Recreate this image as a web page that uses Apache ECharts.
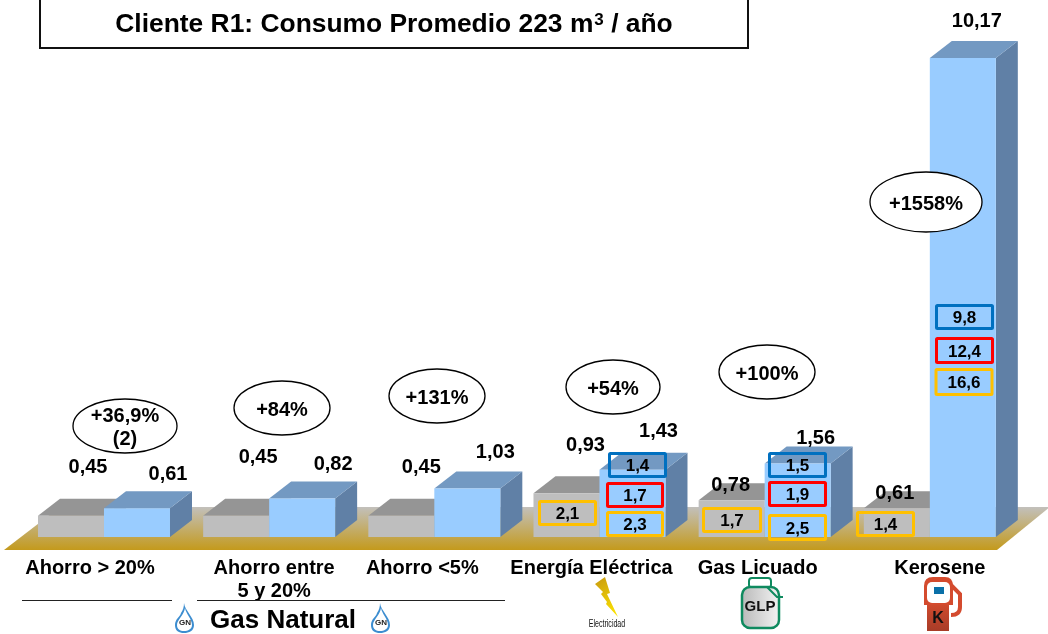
<!DOCTYPE html>
<html>
<head>
<meta charset="utf-8">
<script src="https://cdn.jsdelivr.net/npm/echarts@6/dist/echarts.min.js"></script>
<style>
html, body { margin: 0; padding: 0; background: #fff; }
#main { width: 1048px; height: 634px; }
</style>
</head>
<body>
<div id="main"></div>
<script>
var categories = ['Ahorro > 20%', 'Ahorro entre\n5 y 20%', 'Ahorro <5%', 'Energía Eléctrica', 'Gas Licuado', 'Kerosene'];
var grayValues = [0.45, 0.45, 0.45, 0.93, 0.78, 0.61];
var blueValues = [0.61, 0.82, 1.03, 1.43, 1.56, 10.17];
var percents = ['+36,9%\n(2)', '+84%', '+131%', '+54%', '+100%', '+1558%'];
var boxTexts = ['2,1', '1,4', '1,7', '2,3', '1,7', '1,5', '1,9', '2,5', '1,4', '9,8', '12,4', '16,6'];

// label nudges, relative to the top of each bar
var grayShift = [[17, -48], [22, -58], [20, -48], [19, -48], [-1, -15], [-2, -15]];
var blueShift = [[31, -34], [31, -34], [28, -36], [26, -38], [18, -25], [14, -37]];
var catShift = [-14, 5, -12, -8, -7, 10];

var ovals = [[125, 426, 52, 27], [282, 408, 48, 27], [437, 396, 48, 27], [613, 387, 47, 27], [767, 372, 48, 27], [926, 202, 56, 30]];
var boxes = [
    [539.5, 501.5, 56, 23, '#FFC000'], [609.5, 453.5, 56, 23, '#0070C0'], [607.5, 483.5, 55, 23, '#FF0000'], [607.5, 512.5, 55, 23, '#FFC000'],
    [703.5, 508.5, 57, 23, '#FFC000'], [769.5, 453.5, 56, 23, '#0070C0'], [769.5, 482.5, 56, 23, '#FF0000'], [769.5, 515.5, 56, 24, '#FFC000'],
    [857.5, 512.5, 56, 23, '#FFC000'], [936.5, 305.5, 56, 23, '#0070C0'], [936.5, 338.5, 56, 24, '#FF0000'], [936, 369.5, 56, 25, '#FFC000']
];

var FONT = '"Liberation Sans", Arial, sans-serif';
var BAR_W = 66, DEPTH_X = 22, DEPTH_Y = -17;

function fmt(v) {
    return v.toFixed(2).replace('.', ',');
}

function vgrad(a, b) {
    return new echarts.graphic.LinearGradient(0, 0, 0, 1, [{ offset: 0, color: a }, { offset: 1, color: b }]);
}

function barItem(side, colors) {
    return function (params, api) {
        var i = api.value(0);
        var val = api.value(1);
        var base = api.coord([i, 0]);
        var top = api.coord([i, val]);
        var x0 = base[0] + (side < 0 ? -BAR_W : 0);
        var x1 = x0 + BAR_W;
        var y0 = base[1], y1 = top[1];
        var dx = DEPTH_X, dy = DEPTH_Y;
        return {
            type: 'group',
            children: [
                { type: 'polygon', shape: { points: [[x1, y0], [x1 + dx, y0 + dy], [x1 + dx, y1 + dy], [x1, y1]] }, style: { fill: colors[2] } },
                { type: 'polygon', shape: { points: [[x0, y1], [x1, y1], [x1 + dx, y1 + dy], [x0 + dx, y1 + dy]] }, style: { fill: colors[1] } },
                { type: 'rect', shape: { x: x0, y: y1, width: BAR_W, height: y0 - y1 }, style: { fill: colors[0] } }
            ]
        };
    };
}

function labelItem(side, shift) {
    return function (params, api) {
        var i = api.value(0);
        var val = api.value(1);
        var p = api.coord([i, val]);
        return {
            type: 'text',
            style: {
                text: fmt(val),
                x: p[0] + side * BAR_W / 2 + shift[i][0],
                y: p[1] + shift[i][1],
                align: 'center',
                verticalAlign: 'middle',
                fill: '#000',
                font: 'bold 20px ' + FONT
            }
        };
    };
}

function catItem(params, api) {
    var i = api.value(0);
    var p = api.coord([i, 0]);
    return {
        type: 'text',
        style: {
            text: categories[i],
            x: p[0] + catShift[i],
            y: 557,
            align: 'center',
            verticalAlign: 'top',
            lineHeight: 23,
            fill: '#000',
            font: 'bold 20px ' + FONT
        }
    };
}

function flame(x, y) {
    return {
        type: 'group', x: x, y: y,
        children: [
            { type: 'path', shape: { pathData: 'M9 0 C10 8 19 14 19 22 C19 28 14 30 9 30 C4 30 0 28 0 22 C0 16 5 14 6 10 C8 7 9 4 9 0 Z' }, style: { fill: '#3C8DD0' } },
            { type: 'path', shape: { pathData: 'M10 5 C11 11 17 16 17 22 C17 26 13 28 9 28 C5 28 2 26 2 22 C2 17 9 12 10 5 Z' }, style: { fill: '#fff' } },
            { type: 'text', style: { x: 10, y: 20, text: 'GN', align: 'center', verticalAlign: 'middle', fill: '#222', font: 'bold 8px ' + FONT } }
        ]
    };
}

function iconItem() {
    return {
        type: 'group',
        children: [
            flame(175, 603),
            flame(371, 603),
            { type: 'path', shape: { pathData: 'M950 584 L960 594 L960 607 Q960 615 951 615' }, style: { fill: 'none', stroke: '#D44B2E', lineWidth: 4 } },
            { type: 'path', shape: { pathData: 'M924 605 L924 586 Q924 577 933 577 L945 577 Q953 577 953 586 L953 605 Z' }, style: { fill: '#D44B2E' } },
            { type: 'rect', shape: { x: 927, y: 582, width: 23, height: 21, r: 5 }, style: { fill: '#fff' } },
            { type: 'rect', shape: { x: 927, y: 605, width: 22, height: 26 }, style: { fill: vgrad('#CF4A2D', '#A83C28') } },
            { type: 'rect', shape: { x: 934, y: 587, width: 10, height: 7 }, style: { fill: '#0A70A8' } },
            { type: 'text', style: { x: 938, y: 619, text: 'K', align: 'center', verticalAlign: 'middle', fill: '#111', font: 'bold 16px ' + FONT } }
        ]
    };
}

var graphics = [];

// floor
graphics.push({
    type: 'polygon', z: 0,
    shape: { points: [[4, 550], [997, 550], [1050, 507], [60, 507]] },
    style: { fill: vgrad('#C2C0BC', '#C49A1C') }
});

// title box
graphics.push({ type: 'rect', z: 100, shape: { x: 40, y: -3, width: 708, height: 51 }, style: { fill: '#fff', stroke: '#111', lineWidth: 2 } });
graphics.push({
    type: 'text', z: 101,
    style: {
        x: 394, y: 25, align: 'center', verticalAlign: 'middle',
        text: '{t|Cliente R1: Consumo Promedio 223 m}{s|3}{t| / año}',
        rich: {
            t: { font: 'bold 26.4px ' + FONT, fill: '#000' },
            s: { font: 'bold 17px ' + FONT, fill: '#000', verticalAlign: 'top', padding: [0, 0, 8, 1] }
        }
    }
});

ovals.forEach(function (o, i) {
    graphics.push({ type: 'ellipse', z: 100, shape: { cx: o[0], cy: o[1], rx: o[2], ry: o[3] }, style: { fill: '#fff', stroke: '#000', lineWidth: 1.3 } });
    graphics.push({
        type: 'text', z: 101,
        style: { x: o[0], y: o[1] + 2, text: percents[i], align: 'center', verticalAlign: 'middle', lineHeight: 23, fill: '#000', font: 'bold 20px ' + FONT }
    });
});

boxes.forEach(function (b, i) {
    graphics.push({ type: 'rect', z: 100, shape: { x: b[0], y: b[1], width: b[2], height: b[3], r: 1 }, style: { fill: 'none', stroke: b[4], lineWidth: 3 } });
    graphics.push({
        type: 'text', z: 101,
        style: { x: b[0] + b[2] / 2, y: b[1] + b[3] / 2 + 1.5, text: boxTexts[i], align: 'center', verticalAlign: 'middle', fill: '#000', font: 'bold 17px ' + FONT }
    });
});

// gas natural rule and caption
graphics.push({ type: 'line', z: 100, shape: { x1: 22, y1: 600.5, x2: 172, y2: 600.5 }, style: { stroke: '#222', lineWidth: 1 } });
graphics.push({ type: 'line', z: 100, shape: { x1: 197, y1: 600.5, x2: 505, y2: 600.5 }, style: { stroke: '#222', lineWidth: 1 } });
graphics.push({
    type: 'text', z: 101,
    style: { x: 283, y: 621, text: 'Gas Natural', align: 'center', verticalAlign: 'middle', fill: '#000', font: 'bold 26px ' + FONT }
});

// lightning icon
graphics.push({
    type: 'polygon', z: 100,
    shape: { points: [[605, 577], [610, 593], [607, 594], [618, 617], [606, 604], [607, 602], [601, 594], [603, 592], [595, 584]] },
    style: { fill: new echarts.graphic.LinearGradient(0, 0, 1, 1, [{ offset: 0, color: '#C89A10' }, { offset: 1, color: '#FFE800' }]) }
});
graphics.push({
    type: 'text', z: 101, x: 607, y: 624, scaleX: 0.64,
    style: { x: 0, y: 0, text: 'Electricidad', align: 'center', verticalAlign: 'middle', fill: '#111', font: '11px ' + FONT }
});

// GLP tank
graphics.push({ type: 'rect', z: 100, shape: { x: 749, y: 578, width: 22, height: 10, r: 3 }, style: { fill: '#fff', stroke: '#0F8A5F', lineWidth: 2 } });
graphics.push({
    type: 'rect', z: 100, shape: { x: 742, y: 587, width: 37, height: 41, r: 8 },
    style: { fill: new echarts.graphic.LinearGradient(0, 0, 1, 0, [{ offset: 0, color: '#B8B8B8' }, { offset: 1, color: '#F4F4F4' }]), stroke: '#0F8A5F', lineWidth: 2.5 }
});
graphics.push({ type: 'polyline', z: 101, shape: { points: [[767, 587], [777, 597], [783, 597]] }, style: { fill: 'none', stroke: '#0F8A5F', lineWidth: 2 } });
graphics.push({
    type: 'text', z: 102,
    style: { x: 760, y: 607, text: 'GLP', align: 'center', verticalAlign: 'middle', fill: '#111', font: 'bold 15px ' + FONT }
});

var chart = echarts.init(document.getElementById('main'), null, { renderer: 'canvas' });

function rows(values) {
    return values.map(function (v, i) { return [i, v]; });
}

chart.setOption({
    animation: false,
    backgroundColor: '#fff',
    grid: { left: 21.4, width: 991, top: 58, bottom: 97 },
    xAxis: { type: 'category', data: categories, show: false },
    yAxis: { type: 'value', min: 0, max: 10.17, show: false },
    series: [
        { type: 'custom', name: 'gray', z: 5, clip: false, renderItem: barItem(-1, ['#BEBEBE', '#959595', '#8C8C8C']), data: rows(grayValues) },
        { type: 'custom', name: 'blue', z: 6, clip: false, renderItem: barItem(1, ['#99CCFF', '#7399C2', '#6080A6']), data: rows(blueValues) },
        { type: 'custom', name: 'grayLabels', z: 7, clip: false, renderItem: labelItem(-1, grayShift), data: rows(grayValues) },
        { type: 'custom', name: 'blueLabels', z: 7, clip: false, renderItem: labelItem(1, blueShift), data: rows(blueValues) },
        { type: 'custom', name: 'categories', z: 7, clip: false, renderItem: catItem, data: rows(grayValues) },
        { type: 'custom', name: 'icons', z: 7, clip: false, renderItem: iconItem, data: [[0, 0]] }
    ],
    graphic: { elements: graphics }
});
</script>
</body>
</html>
